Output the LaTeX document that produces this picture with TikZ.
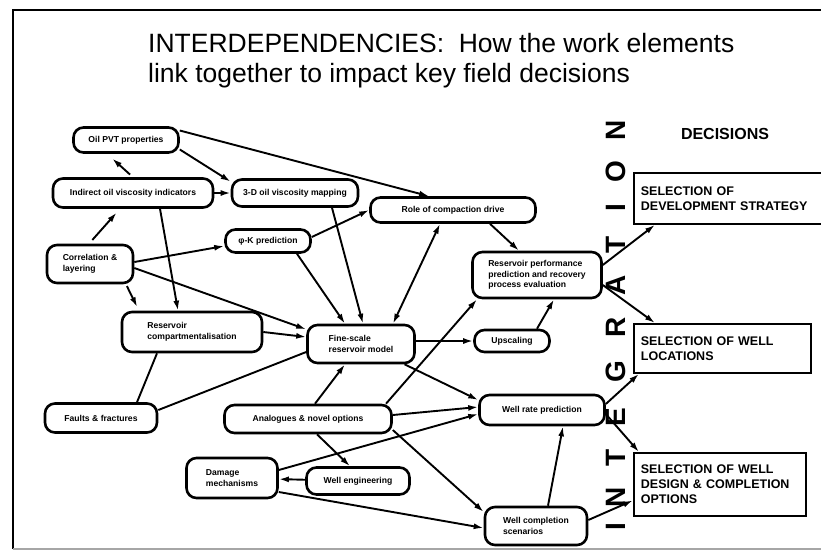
\documentclass[tikz,border=0pt]{standalone}
\usepackage{fontspec}
\setmainfont{Liberation Sans}
\usetikzlibrary{arrows.meta}

\begin{document}
\begin{tikzpicture}[x=1pt, y=-1pt, >={Latex[length=10pt,width=6pt]},
  elem/.style={draw, line width=2.6pt, rounded corners=10pt, align=left, inner sep=3pt, font=\fontsize{8.6}{10.5}\selectfont\bfseries},
  decision/.style={draw, line width=1.8pt, anchor=north west, align=left, inner xsep=7pt, font=\fontsize{12.5}{15}\selectfont\bfseries},
  link/.style={->, line width=1.9pt},
  bigletter/.style={rotate=90, inner sep=0pt, font=\fontsize{28}{28}\selectfont\bfseries}]
\useasboundingbox (0,0) rectangle (821,558);
\clip (0,0) rectangle (821,558);
\draw[line width=2pt] (13,549) -- (13,10) -- (830,10);
\draw[line width=1.5pt, black!35] (13,549) -- (830,549);

\node[anchor=north west, inner sep=0pt, align=left, font=\fontsize{26.5}{30.5}\selectfont] (title) at (148,33) {INTERDEPENDENCIES:\ \ How the work elements\\link together to impact key field decisions};

\node[elem, minimum width=105pt, minimum height=25pt] (pvt) at (126,140) {Oil PVT properties};
\node[elem, minimum width=160pt, minimum height=29pt] (indirect) at (133,193) {Indirect oil viscosity indicators};
\node[elem, minimum width=126pt, minimum height=27pt] (mapping) at (295,193) {3-D oil viscosity mapping};
\node[elem, minimum width=165pt, minimum height=25pt] (compaction) at (453,210) {Role of compaction drive};
\node[elem, minimum width=85pt, minimum height=23pt] (phik) at (268,241) {φ-K prediction};
\node[elem, minimum width=86pt, minimum height=38pt] (correl) at (90,264) {Correlation \&\\layering};
\node[elem, minimum width=140pt, minimum height=40pt] (compart) at (192,332) {Reservoir\\compartmentalisation};
\node[elem, minimum width=107pt, minimum height=38pt] (finescale) at (361,344) {Fine-scale\\reservoir model};
\node[elem, minimum width=75pt, minimum height=22pt] (upscale) at (512,341) {Upscaling};
\node[elem, minimum width=129pt, minimum height=46pt] (resperf) at (537,275) {Reservoir performance\\prediction and recovery\\process evaluation};
\node[elem, minimum width=112pt, minimum height=29pt] (faults) at (101,418) {Faults \& fractures};
\node[elem, minimum width=167pt, minimum height=28pt] (analogues) at (308,419) {Analogues \& novel options};
\node[elem, minimum width=125pt, minimum height=30pt] (wellrate) at (542,410) {Well rate prediction};
\node[elem, minimum width=91pt, minimum height=40pt] (damage) at (232,478) {Damage\\mechanisms};
\node[elem, minimum width=103pt, minimum height=27pt] (welleng) at (358,481) {Well engineering};
\node[elem, minimum width=102pt, minimum height=38pt] (completion) at (536,526) {Well completion\\scenarios};

\node[font=\fontsize{16}{16}\selectfont\bfseries] (decisions) at (725,134) {DECISIONS};
\node[decision, text width=186pt, minimum height=51pt] (strategy) at (633,172) {SELECTION OF\\DEVELOPMENT STRATEGY};
\node[decision, text width=163pt, minimum height=49pt] (locations) at (633,323) {SELECTION OF WELL\\LOCATIONS};
\node[decision, text width=158pt, minimum height=63pt] (design) at (633,452) {SELECTION OF WELL\\DESIGN \& COMPLETION\\OPTIONS};

\foreach \ch/\yy [count=\k] in {I/527,N/497,T/458,E/417,G/372,R/327,A/285,T/245,I/208,O/172,N/130}
  \node[bigletter] (letter\k) at (616,\yy) {\ch};

\draw[link, shorten <=4pt, shorten >=7pt] (indirect.north) -- ([xshift=-19pt]pvt.south);
\draw[link] (pvt.-10) -- (mapping.170);
\draw[link] (pvt.10) -- (compaction.150);
\draw[link] (indirect) -- (mapping);
\draw[link, shorten <=5pt, shorten >=5pt] ([xshift=-1pt]correl.north) -- ([xshift=-13pt]indirect.south);
\draw[link] ([xshift=27pt]indirect.south) -- ([xshift=-14pt]compart.north);
\draw[link] ([yshift=2pt]correl.east) -- ([yshift=-5pt]phik.west);
\draw[link] ([yshift=-4pt]correl.east) -- (finescale.165);
\draw[link, shorten <=2pt, shorten >=4pt] ([xshift=36pt]correl.south) -- ([xshift=-53pt]compart.north);
\draw[link] ([yshift=4pt]phik.east) -- (compaction.west);
\draw[link] ([xshift=29pt]phik.south) -- ([xshift=-16pt]finescale.north);
\draw[link] ([xshift=37pt]mapping.south) -- ([xshift=2pt]finescale.north);
\draw[link, <->] ([xshift=32pt]finescale.north) -- ([xshift=-13pt]compaction.south);
\draw[link] ([xshift=37pt]compaction.south) -- ([xshift=-18pt]resperf.north);
\draw[link] (compart.east) -- ([yshift=7pt]finescale.west);
\draw[link] ([yshift=3pt]finescale.east) -- (upscale.west);
\draw[link] ([xshift=25pt]upscale.north) -- ([xshift=17pt]resperf.south);
\draw[link] ([xshift=78pt]analogues.north) -- ([xshift=-60pt]resperf.south);
\draw[line width=1.9pt] ([xshift=36pt]faults.north) -- ([xshift=-35pt]compart.south);
\draw[line width=1.9pt] ([yshift=8pt]faults.east) -- ([yshift=-8pt]finescale.west);
\draw[link] ([xshift=7pt]analogues.north) -- ([xshift=-16pt]finescale.south);
\draw[link] (finescale.-25) -- ([yshift=10pt]wellrate.west);
\draw[link] ([yshift=4pt]analogues.east) -- ([yshift=3pt]wellrate.west);
\draw[link] ([yshift=8pt]damage.east) -- ([yshift=-4pt]wellrate.west);
\draw[link] ([yshift=-11pt]analogues.east) -- (completion.165);
\draw[link] ([xshift=9pt]analogues.south) -- ([xshift=-8pt]welleng.north);
\draw[link] (welleng) -- (damage);
\draw[link] ([yshift=-14pt]damage.east) -- ([yshift=-2pt]completion.west);
\draw[link] ([xshift=12pt]completion.north) -- ([xshift=21pt]wellrate.south);
\draw[link] ([yshift=10pt]resperf.east) -- ([xshift=22pt]strategy.south west);
\draw[link] ([yshift=-10pt]resperf.east) -- ([xshift=22pt]locations.north west);
\draw[link] ([yshift=6pt]wellrate.east) -- ([xshift=6pt]locations.south west);
\draw[link] ([yshift=-4pt]wellrate.east) -- ([xshift=6pt]design.north west);
\draw[link] ([yshift=6pt]completion.east) -- ([yshift=-16pt]design.west);
\end{tikzpicture}
\end{document}
